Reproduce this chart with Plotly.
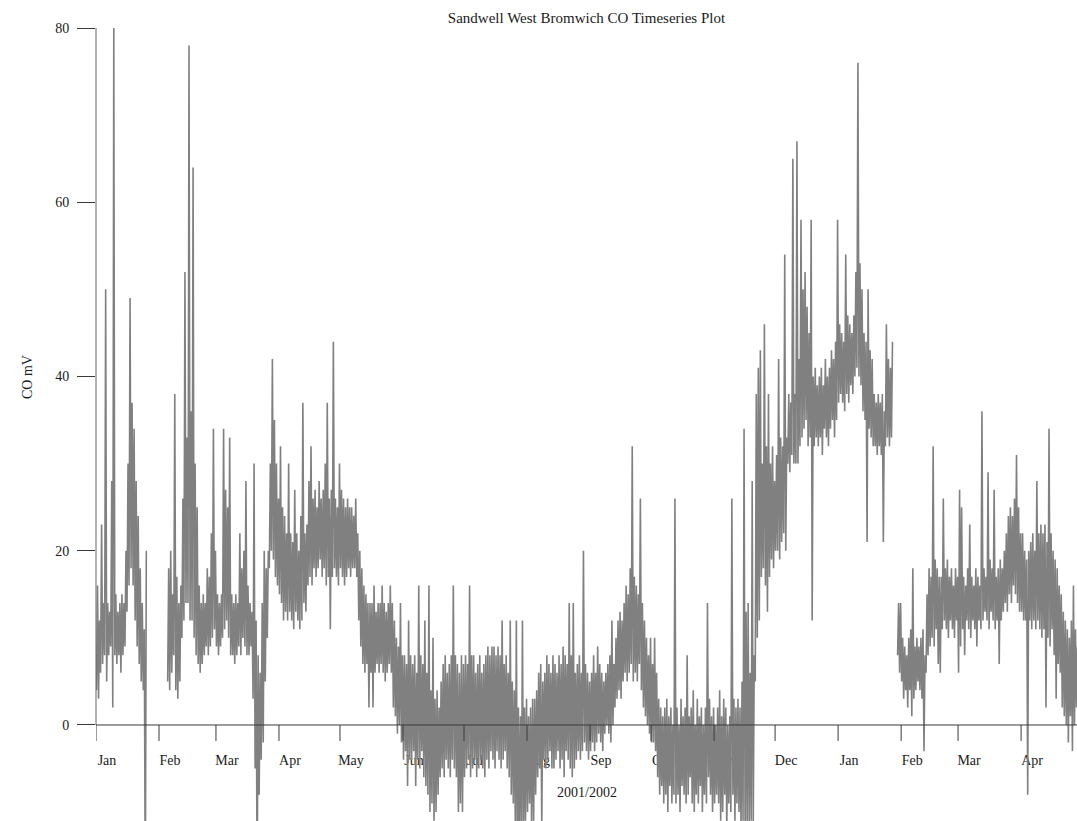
import datetime as dt
import plotly.graph_objects as go

# ---------------- data ----------------
# daily minimum / maximum of the CO signal (mV), one value per day from 1 Jan 2001
N = None
daily_low = [
    4, 3, 6, 7, 8, 5, 8, 9, 2, 8,            # d0-9
    7, 8, 6, 8, 9, 13, 16, 18, 16, 12,       # d10-19
    9, 7, 5, 4, -20, N, N, N, N, N,          # d20-29
    N, N, N, N, N, 5, 4, 6, 8, 4,            # d30-39
    3, 5, 10, 12, 14, 14, 12, 12, 10, 8,     # d40-49
    7, 6, 7, 8, 9, 8, 9, 10, 11, 9,          # d50-59
    8, 9, 10, 11, 12, 10, 8, 8, 7, 8,        # d60-69
    9, 8, 10, 9, 8, 8, 9, 3, -5, -20,        # d70-79
    -8, -4, -2, 5, 10, 18, 20, 19, 17, 16,   # d80-89
    15, 14, 12, 13, 12, 13, 12, 11, 13, 12,  # d90-99
    11, 12, 14, 13, 16, 17, 16, 18, 17, 18,  # d100-109
    19, 17, 18, 16, 17, 11, 17, 18, 17, 16,  # d110-119
    18, 17, 16, 17, 18, 17, 18, 18, 17, 12,  # d120-129
    9, 7, 6, 7, 2, 6, 2, 6, 7, 6,            # d130-139
    7, 6, 5, 6, 7, 6, 2, 1, -1, 0,           # d140-149
    -2, -4, -3, -7, -4, -4, -3, -7, -4, -5,  # d150-159
    -3, -6, -7, -8, -10, -9, -11, -10, -8, -6,   # d160-169
    -5, -6, -4, -5, -6, -4, -5, -6, -10, -9,     # d170-179
    -10, -6, -5, -4, -6, -5, -4, -6, -5, -4,     # d180-189
    -5, -6, -4, -5, -3, -4, -5, -3, -4, -5,      # d190-199
    -4, -3, -5, -6, -8, -9, -12, -15, -13, -12,  # d200-209
    -14, -11, -10, -9, -12, -11, -8, -6, -5, -12,  # d210-219
    -4, -5, -4, -3, -5, -5, -4, -3, -5, -4,      # d220-229
    -6, -3, -4, -5, -6, -5, -4, -3, -4, -3,      # d230-239
    -2, -3, -4, -3, -2, -3, -2, -1, -2, -3,      # d240-249
    -1, 0, -1, -2, 0, 2, 3, 4, 3, 5,             # d250-259
    6, 5, 6, 7, 5, 6, 5, 7, 4, 2,                # d260-269
    1, 0, -1, -2, -2, -3, -6, -8, -7, -9,        # d270-279
    -8, -10, -7, -9, -8, -9, -8, -10, -7, -8,    # d280-289
    -9, -8, -6, -9, -10, -8, -9, -7, -10, -8,    # d290-299
    -9, -6, -8, -10, -9, -8, -9, -11, -10, -8,   # d300-309
    -12, -9, -10, -8, -11, -9, -10, -12, -11, -13,  # d310-319
    -12, -12, -11, -12, 5, 10, 12, 17, 18, 16,   # d320-329
    13, 17, 19, 18, 20, 20, 19, 21, 22, 20,      # d330-339
    30, 29, 31, 30, 30, 30, 32, 33, 34, 35,      # d340-349
    32, 33, 12, 32, 33, 32, 33, 31, 34, 33,      # d350-359
    32, 34, 35, 33, 35, 37, 38, 37, 36, 38,      # d360-369
    37, 39, 38, 40, 41, 40, 39, 36, 35, 21,      # d370-379
    34, 33, 32, 32, 31, 32, 31, 21, 32, 33,      # d380-389
    32, 33, N, N, 8, 6, 5, 3, 4, 2,              # d390-399
    4, 1, 3, 4, 5, 4, 3, -3, 6, 8,               # d400-409
    9, 10, 9, 11, 7, 6, 11, 12, 11, 10,          # d410-419
    12, 11, 10, 12, 6, 9, 11, 8, 12, 11,         # d420-429
    10, 12, 11, 9, 12, 11, 12, 13, 12, 11,       # d430-439
    13, 12, 11, 12, 7, 12, 13, 14, 13, 15,       # d440-449
    14, 16, 15, 14, 13, 13, 12, 12, -8, 12,      # d450-459
    11, 12, 11, 12, 11, 10, 11, 2, 10, 9,        # d460-469
    11, 8, 3, 7, 6, 2, 1, 0, -2, 1,              # d470-479
    -3, 0, 2,                                    # d480-482
]
daily_high = [
    16, 12, 23, 14, 50, 14, 13, 28, 80, 15,      # d0-9
    13, 14, 15, 14, 20, 30, 49, 37, 34, 28,      # d10-19
    24, 18, 14, 11, 20, N, N, N, N, N,           # d20-29
    N, N, N, N, N, 18, 20, 15, 38, 17,           # d30-39
    14, 16, 26, 52, 33, 78, 36, 64, 30, 25,      # d40-49
    16, 14, 15, 14, 18, 17, 22, 34, 20, 15,      # d50-59
    14, 15, 34, 27, 25, 33, 15, 14, 15, 14,      # d60-69
    22, 18, 20, 28, 16, 14, 13, 30, 12, 8,       # d70-79
    6, 14, 20, 18, 20, 30, 42, 35, 30, 26,       # d80-89
    32, 25, 24, 22, 30, 22, 21, 27, 22, 20,      # d90-99
    24, 37, 22, 23, 28, 32, 26, 27, 25, 28,      # d100-109
    26, 27, 30, 37, 26, 27, 44, 26, 25, 30,      # d110-119
    27, 26, 25, 26, 25, 25, 24, 26, 22, 20,      # d120-129
    18, 16, 15, 14, 14, 14, 16, 13, 14, 14,      # d130-139
    16, 14, 13, 14, 16, 14, 12, 10, 9, 14,       # d140-149
    8, 8, 7, 12, 8, 7, 8, 6, 16, 8,              # d150-159
    7, 12, 6, 16, 4, 10, 3, 4, 2, 5,             # d160-169
    7, 8, 6, 7, 8, 16, 8, 7, 6, 8,               # d170-179
    7, 8, 7, 16, 8, 8, 6, 7, 8, 6,               # d180-189
    7, 8, 9, 8, 9, 9, 8, 9, 8, 12,               # d190-199
    7, 8, 6, 12, 5, 4, 12, 2, 1, 12,             # d200-209
    2, 3, 1, 2, 3, 3, 4, 6, 7, 5,                # d210-219
    6, 8, 7, 6, 8, 7, 6, 8, 7, 9,                # d220-229
    8, 7, 14, 8, 14, 6, 7, 8, 6, 20,             # d230-239
    7, 6, 5, 6, 8, 6, 9, 7, 6, 5,                # d240-249
    6, 7, 8, 12, 7, 10, 12, 13, 12, 14,          # d250-259
    16, 15, 18, 32, 17, 16, 15, 26, 14, 12,      # d260-269
    10, 8, 10, 7, 10, 6, 3, 2, 1, 2,             # d270-279
    3, 1, 2, 0, 26, 2, 0, 3, 1, 2,               # d280-289
    8, 1, 2, 4, 0, 3, 1, 2, 0, 2,                # d290-299
    14, 3, 1, 2, 0, 2, 4, 1, 3, 2,               # d300-309
    0, 1, 26, 3, 2, 3, 2, 5, 34, 13,             # d310-319
    14, 6, 28, 8, 38, 41, 43, 30, 46, 32,        # d320-329
    38, 30, 32, 28, 31, 42, 33, 32, 54, 33,      # d330-339
    38, 37, 65, 38, 67, 42, 58, 50, 52, 48,      # d340-349
    45, 58, 40, 41, 39, 40, 41, 39, 42, 40,      # d350-359
    41, 43, 42, 44, 58, 46, 45, 44, 54, 47,      # d360-369
    46, 45, 47, 52, 76, 53, 50, 45, 44, 50,      # d370-379
    43, 42, 38, 37, 38, 37, 38, 36, 46, 42,      # d380-389
    41, 44, N, N, 14, 14, 10, 9, 8, 10,          # d390-399
    11, 18, 9, 10, 9, 10, 11, 8, 15, 18,         # d400-409
    17, 32, 19, 18, 17, 17, 26, 18, 19, 17,      # d410-419
    18, 16, 18, 17, 27, 25, 17, 16, 18, 23,      # d420-429
    17, 16, 18, 17, 16, 36, 18, 17, 29, 19,      # d430-439
    18, 27, 17, 18, 19, 18, 20, 22, 24, 25,      # d440-449
    24, 26, 31, 25, 22, 22, 20, 19, 20, 21,      # d450-459
    22, 20, 28, 22, 23, 22, 23, 21, 34, 22,      # d460-469
    20, 19, 18, 16, 15, 13, 12, 11, 10, 12,      # d470-479
    16, 11, 9,                                   # d480-482
]

month_labels = ["Jan", "Feb", "Mar", "Apr", "May", "Jun", "Jul", "Aug",
                "Sep", "Oct", "Nov", "Dec", "Jan", "Feb", "Mar", "Apr"]
month_ticks = [dt.datetime(2001 + (i // 12), (i % 12) + 1, 1) for i in range(len(month_labels))]
y_ticks = [0, 20, 40, 60, 80]

start = dt.datetime(2001, 1, 1)
end = start + dt.timedelta(days=482.5)
y_min, y_max = -11.02, 80

# ---------------- build the series ----------------
xs, ys = [], []
for d, (lo, hi) in enumerate(zip(daily_low, daily_high)):
    if lo is None:
        xs.append(start + dt.timedelta(days=d + 0.5))
        ys.append(None)
    else:
        xs += [start + dt.timedelta(days=d + 0.25), start + dt.timedelta(days=d + 0.75)]
        ys += [lo, hi]

fig = go.Figure(go.Scatter(x=xs, y=ys, mode="lines",
                           line=dict(color="#808080", width=1.6),
                           connectgaps=False, hoverinfo="skip"))

FONT = "Liberation Serif, Times New Roman, serif"
axis_col = "#3a3a3a"
tick_len_units = 16 / 8.7125

shapes = [
    dict(type="line", xref="paper", x0=0, x1=0, yref="y", y0=0, y1=80,
         line=dict(color="#666", width=1), layer="above"),
    dict(type="line", xref="paper", x0=0, x1=1, yref="y", y0=0, y1=0,
         line=dict(color=axis_col, width=1), layer="above"),
]
for t in month_ticks:
    shapes.append(dict(type="line", xref="x", x0=t, x1=t, yref="y", y0=0, y1=-tick_len_units,
                       line=dict(color=axis_col, width=1), layer="above"))

fig.update_layout(
    width=1077, height=821,
    margin=dict(l=96, r=0, t=28, b=0),
    paper_bgcolor="white", plot_bgcolor="white",
    showlegend=False,
    font=dict(family=FONT, size=14, color="#1a1a1a"),
    title=dict(text="Sandwell West Bromwich CO Timeseries Plot",
               x=0.5, xref="paper", xanchor="center",
               y=1 - 18 / 821, yref="container", yanchor="middle",
               font=dict(family=FONT, size=15, color="#1a1a1a")),
    xaxis=dict(type="date", range=[start, end],
               anchor="free", position=(0 - y_min) / (y_max - y_min),
               tickvals=month_ticks, ticktext=month_labels,
               ticks="outside", ticklen=16, tickcolor="rgba(0,0,0,0)",
               ticklabelshift=11, ticklabelstandoff=6,
               showline=False, showgrid=False, zeroline=False,
               layer="below traces", tickfont=dict(family=FONT, size=14, color="#1a1a1a")),
    yaxis=dict(range=[y_min, y_max], tickvals=y_ticks,
               ticks="outside", ticklen=18, tickcolor=axis_col, tickwidth=1,
               ticklabelstandoff=5,
               showline=False, showgrid=False, zeroline=False,
               tickfont=dict(family=FONT, size=14, color="#1a1a1a")),
    shapes=shapes,
    annotations=[
        dict(text="CO mV", textangle=-90, showarrow=False,
             xref="paper", x=(27 - 96) / 981, yref="paper", y=(821 - 377) / 793,
             xanchor="center", yanchor="middle", font=dict(family=FONT, size=14)),
        dict(text="2001/2002", showarrow=False,
             xref="paper", x=(587 - 96) / 981, yref="paper", y=(821 - 792) / 793,
             xanchor="center", yanchor="middle", font=dict(family=FONT, size=14)),
    ],
)

fig.write_html("out.html", config={"displayModeBar": False})
